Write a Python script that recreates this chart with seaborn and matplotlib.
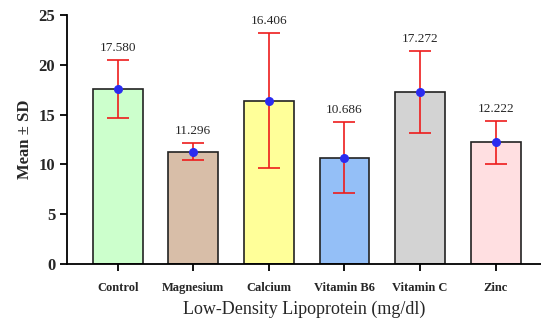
import pandas as pd
import matplotlib.pyplot as plt
import seaborn as sns

groups = ["Control", "Magnesium", "Calcium", "Vitamin B6", "Vitamin C", "Zinc"]
means = [17.580, 11.296, 16.406, 10.686, 17.272, 12.222]
sds = [2.90, 0.86, 6.78, 3.57, 4.15, 2.14]
colors = ["#ccffcc", "#d8bea8", "#ffff99", "#94bff7", "#d3d3d3", "#ffdfe1"]

df = pd.DataFrame({"group": groups, "mean": means, "sd": sds})

sns.set_style("white")
plt.rcParams['font.family'] = ['Liberation Serif', 'DejaVu Serif']

fig = plt.figure(figsize=(5.41, 3.2), dpi=100)
ax = fig.add_axes([0.124, 0.175, 0.876, 0.778])

sns.barplot(data=df, x="group", y="mean", hue="group", palette=colors,
            order=groups, width=0.66, edgecolor="#222222", linewidth=1.2,
            saturation=1, legend=False, ax=ax)

x = range(len(groups))
ax.errorbar(x, df["mean"], yerr=df["sd"], fmt="none", ecolor="#ee1c1c",
            elinewidth=1.2, capsize=8, capthick=1.2, zorder=3)
ax.scatter(x, df["mean"], color="#2b2bf0", s=30, zorder=4)

for i, (m, s) in enumerate(zip(means, sds)):
    ax.text(i, m + s + 0.6, f"{m:.3f}", ha="center", va="bottom", fontsize=9.5)

ax.set_ylim(0, 25)
ax.set_xlim(-0.67, 5.6)
ax.set_yticks([0, 5, 10, 15, 20, 25])
sns.despine(ax=ax, top=True, right=True)
for sp in ["left", "bottom"]:
    ax.spines[sp].set_color("black")
    ax.spines[sp].set_linewidth(1.3)
ax.tick_params(axis="both", direction="out", length=5, width=1.3, color="black",
               bottom=True, left=True)
ax.tick_params(axis="y", labelsize=12)
ax.tick_params(axis="x", labelsize=9, pad=8)
for lbl in ax.get_xticklabels() + ax.get_yticklabels():
    lbl.set_fontweight("bold")

ax.set_ylabel("Mean ± SD", fontsize=12, fontweight="bold")
ax.set_xlabel("Low-Density Lipoprotein (mg/dl)", fontsize=13, labelpad=5)

fig.savefig("out.png", dpi=100)
